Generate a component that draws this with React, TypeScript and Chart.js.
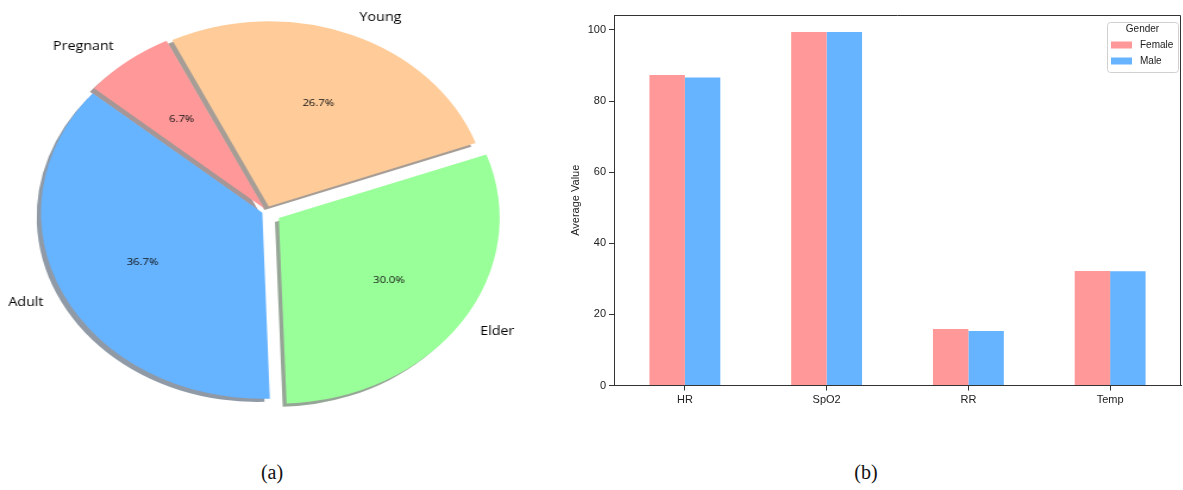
import React, { useEffect, useRef } from 'react';
import { Chart, registerables } from 'chart.js';

Chart.register(...registerables);

// ---- Pie data (a) ----
const pieLabels = ['Pregnant', 'Young', 'Elder', 'Adult'];
const pieCounts = [2, 8, 9, 11];
const pieColors = ['#ff9999', '#ffcc99', '#99ff99', '#66b3ff'];
const pieExplodePx = [5, 5, 13, 5];

// ---- Bar data (b) ----
const metrics = ['HR', 'SpO2', 'RR', 'Temp'];
const femaleValues = [87.3, 99.4, 15.9, 32.2];
const maleValues = [86.6, 99.4, 15.3, 32.1];
const seriesNames = ['Female', 'Male'];
const seriesColors = ['#ff9999', '#66b3ff'];
const yTicks = [0, 20, 40, 60, 80, 100];
const yMax = 104.2;

const PIE_FONT = '"Open Sans", "DejaVu Sans", sans-serif';
const BAR_FONT = '"Liberation Sans", Arial, sans-serif';

function fixFactor(circ: number) {
  return 1 - Math.sin(Math.min(Math.PI, circ));
}

function hexToRgb(hex: string) {
  const h = hex.replace('#', '');
  return [parseInt(h.slice(0, 2), 16), parseInt(h.slice(2, 4), 16), parseInt(h.slice(4, 6), 16)];
}

const pieTotal = pieCounts.reduce((a, b) => a + b, 0);

function arcGeom(arc: any, i: number) {
  const p = arc.getProps(['x', 'y', 'startAngle', 'endAngle', 'outerRadius'], true);
  const mid = (p.startAngle + p.endAngle) / 2;
  const shift = pieExplodePx[i];
  return {
    cx: p.x + Math.cos(mid) * shift,
    cy: p.y + Math.sin(mid) * shift,
    r: p.outerRadius,
    start: p.startAngle,
    end: p.endAngle,
    mid,
  };
}

const pieDecor = {
  id: 'pieDecor',
  beforeDatasetsDraw(chart: any) {
    const ctx = chart.ctx;
    const meta = chart.getDatasetMeta(0);
    const sh = 3.7;
    meta.data.forEach((arc: any, i: number) => {
      const g = arcGeom(arc, i);
      const [r, gg, b] = hexToRgb(pieColors[i]);
      ctx.save();
      ctx.fillStyle = `rgba(${Math.round(r * 0.3)},${Math.round(gg * 0.3)},${Math.round(b * 0.3)},0.5)`;
      ctx.beginPath();
      ctx.moveTo(g.cx - sh, g.cy + sh);
      ctx.arc(g.cx - sh, g.cy + sh, g.r, g.start, g.end);
      ctx.closePath();
      ctx.fill();
      ctx.restore();
    });
  },
  afterDatasetsDraw(chart: any) {
    const ctx = chart.ctx;
    const meta = chart.getDatasetMeta(0);
    meta.data.forEach((arc: any, i: number) => {
      const g = arcGeom(arc, i);
      const c = Math.cos(g.mid);
      const s = Math.sin(g.mid);
      ctx.save();
      ctx.textBaseline = 'middle';
      ctx.fillStyle = '#000';
      ctx.font = `12px ${PIE_FONT}`;
      ctx.textAlign = c > 0 ? 'left' : 'right';
      ctx.fillText(pieLabels[i], g.cx + c * g.r * 1.1, g.cy + s * g.r * 1.1);
      ctx.font = `9.5px ${PIE_FONT}`;
      ctx.textAlign = 'center';
      ctx.fillStyle = '#111';
      const pct = ((pieCounts[i] / pieTotal) * 100).toFixed(1) + '%';
      ctx.fillText(pct, g.cx + c * g.r * 0.6, g.cy + s * g.r * 0.6);
      ctx.restore();
    });
  },
};

function PieChart() {
  const ref = useRef<HTMLCanvasElement>(null);
  useEffect(() => {
    if (!ref.current) return;
    const chart = new Chart(ref.current, {
      type: 'pie',
      data: {
        labels: pieLabels,
        datasets: [
          {
            data: pieCounts,
            backgroundColor: pieColors,
            borderWidth: 0,
            radius: 185,
            offset: (ctx: any) => {
              const i = ctx.dataIndex;
              const circ = (pieCounts[i] / pieTotal) * 2 * Math.PI;
              return (pieExplodePx[i] * 4) / (1 + fixFactor(circ));
            },
          } as any,
        ],
      },
      options: {
        responsive: false,
        animation: false,
        rotation: -50,
        layout: { padding: 0 },
        plugins: { legend: { display: false }, tooltip: { enabled: false } },
      },
      plugins: [pieDecor],
    });
    return () => chart.destroy();
  }, []);
  return <canvas ref={ref} width={448} height={422} />;
}

const barFrame = {
  id: 'barFrame',
  afterDraw(chart: any) {
    const { ctx, chartArea } = chart;
    const { left, right, top, bottom } = chartArea;
    ctx.save();
    ctx.strokeStyle = '#333';
    ctx.lineWidth = 1;
    ctx.beginPath();
    ctx.moveTo(left, top + 0.5);
    ctx.lineTo(right - 0.5, top + 0.5);
    ctx.lineTo(right - 0.5, bottom);
    ctx.stroke();

    // legend
    const bw = 71;
    const bh = 50;
    const bx = right - 3 - bw;
    const by = top + 7;
    ctx.fillStyle = 'rgba(255,255,255,0.8)';
    ctx.strokeStyle = '#d0d0d0';
    ctx.lineWidth = 1;
    ctx.beginPath();
    (ctx as any).roundRect(bx + 0.5, by + 0.5, bw, bh, 3);
    ctx.fill();
    ctx.stroke();
    ctx.fillStyle = '#222';
    ctx.font = `10px ${BAR_FONT}`;
    ctx.textBaseline = 'middle';
    ctx.textAlign = 'center';
    ctx.fillText('Gender', bx + bw / 2, by + 7);
    chart.data.datasets.forEach((ds: any, i: number) => {
      const yy = by + 23 + i * 16;
      ctx.fillStyle = ds.backgroundColor;
      ctx.fillRect(bx + 4, yy - 3.5, 21, 7);
      ctx.fillStyle = '#222';
      ctx.textAlign = 'left';
      ctx.fillText(ds.label, bx + 33, yy);
    });
    ctx.restore();
  },
};

function BarChart() {
  const ref = useRef<HTMLCanvasElement>(null);
  useEffect(() => {
    if (!ref.current) return;
    const font = { family: BAR_FONT, size: 11 };
    const chart = new Chart(ref.current, {
      type: 'bar',
      data: {
        labels: metrics,
        datasets: [femaleValues, maleValues].map((vals, i) => ({
          label: seriesNames[i],
          data: vals,
          backgroundColor: seriesColors[i],
          borderWidth: 0,
          categoryPercentage: 0.5,
          barPercentage: 1,
        })),
      },
      options: {
        responsive: false,
        animation: false,
        layout: { padding: { top: 15, right: 2, left: 0, bottom: 0 } },
        plugins: { legend: { display: false }, tooltip: { enabled: false } },
        scales: {
          x: {
            grid: { offset: false, drawOnChartArea: false, tickLength: 5, color: '#333' },
            border: { color: '#333', width: 1 },
            ticks: { font, color: '#222', padding: 3, maxRotation: 0 },
            afterFit: (s: any) => {
              s.height = 54.5;
            },
          },
          y: {
            min: 0,
            max: yMax,
            grid: { drawOnChartArea: false, tickLength: 5, color: '#333' },
            border: { color: '#333', width: 1 },
            ticks: { font, color: '#222', padding: 3, includeBounds: false },
            afterBuildTicks: (s: any) => {
              s.ticks = yTicks.map((v) => ({ value: v }));
            },
            title: {
              display: true,
              text: 'Average Value',
              font,
              color: '#222',
              padding: { top: 9, bottom: 0 },
            },
            afterFit: (s: any) => {
              s.width = 54;
            },
          },
        },
      },
      plugins: [barFrame],
    });
    return () => chart.destroy();
  }, []);
  return <canvas ref={ref} width={623} height={440} />;
}

export default function App() {
  const caption: React.CSSProperties = {
    position: 'absolute',
    top: 460,
    width: 60,
    textAlign: 'center',
    fontFamily: '"Liberation Serif", "Times New Roman", serif',
    fontSize: 20,
    lineHeight: '24px',
    color: '#111',
  };
  return (
    <div
      style={{
        position: 'fixed',
        left: 0,
        top: 0,
        width: 1183,
        height: 490,
        background: '#fff',
        overflow: 'hidden',
      }}
    >
      <div
        style={{
          position: 'absolute',
          left: 0,
          top: 0,
          width: 448,
          height: 422,
          transform: 'scaleX(1.19)',
          transformOrigin: '0 0',
        }}
      >
        <PieChart />
      </div>
      <div style={{ position: 'absolute', left: 560, top: 0, width: 623, height: 440 }}>
        <BarChart />
      </div>
      <div style={{ ...caption, left: 242 }}>(a)</div>
      <div style={{ ...caption, left: 836 }}>(b)</div>
    </div>
  );
}
